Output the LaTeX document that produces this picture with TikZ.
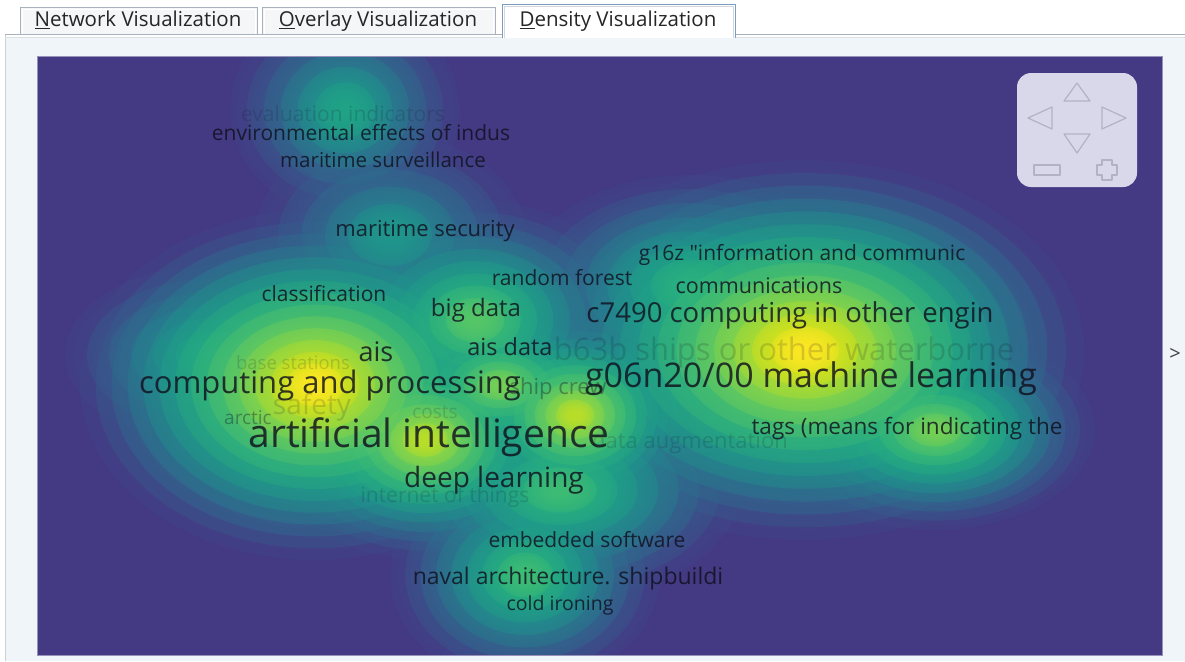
\documentclass[tikz,border=0pt]{standalone}
\usepackage{fontspec}
\setmainfont{Open Sans}
\newfontfamily\osplain{Open Sans}
\usetikzlibrary{fadings}
\definecolor{bgmap}{HTML}{443983}
\definecolor{vA}{HTML}{3F4889}
\definecolor{vB}{HTML}{355F8D}
\definecolor{vC}{HTML}{2D708E}
\definecolor{vD}{HTML}{25838E}
\definecolor{vE}{HTML}{1F968B}
\definecolor{vF}{HTML}{20A386}
\definecolor{vG}{HTML}{29AF7F}
\definecolor{vH}{HTML}{3DBC74}
\definecolor{vI}{HTML}{56C667}
\definecolor{vJ}{HTML}{75D054}
\definecolor{vK}{HTML}{95D840}
\definecolor{vL}{HTML}{BADE28}
\definecolor{vM}{HTML}{DDE318}
\definecolor{vN}{HTML}{FDE725}
\definecolor{panelbg}{HTML}{F0F5FA}
\definecolor{tabline}{HTML}{A8B2BE}
\definecolor{tabsel}{HTML}{7D9CC0}
\definecolor{tabfill}{HTML}{F5F6F8}
\definecolor{navfill}{HTML}{D9D7EA}
\definecolor{navline}{HTML}{B3B1C6}
\definecolor{labdark}{HTML}{10101E}
\pgfdeclareradialshading{blobshade}{\pgfpointorigin}{color(0bp)=(white); color(8bp)=(black!10); color(16bp)=(black!35); color(24bp)=(black!62); color(32bp)=(black!82); color(40bp)=(black!94); color(50bp)=(black)}
\pgfdeclarefading{blobfade}{\pgfuseshading{blobshade}}
\newcommand{\fsz}[1]{\fontsize{#1}{#1}\selectfont}
\tikzset{
  lab/.style={inner sep=0pt, text=labdark, text opacity=0.82, anchor=center},
  faint/.style={inner sep=0pt, text=labdark, text opacity=0.16, anchor=center},
  mid/.style={inner sep=0pt, text=labdark, text opacity=0.36, anchor=center},
  tabtext/.style={inner sep=0pt, text=black!85, font=\fsz{20.5}, anchor=base},
  navshape/.style={draw=navline, line width=1.2pt, line join=round},
}
\begin{document}
\begin{tikzpicture}[x=1pt,y=-1pt]
\useasboundingbox (0,0) rectangle (1185,661);
\fill[white] (0,0) rectangle (1185,661);
% map
\fill[bgmap] (37,56) rectangle (1162,655);
\begin{scope}
\clip (37,56) rectangle (1162,655);
\foreach \lev/\col in {1/vA,2/vB,3/vC,4/vD,5/vE,6/vF,7/vG,8/vH,9/vI,10/vJ,11/vK,12/vL,13/vM,14/vN}{
  \foreach \bx/\by/\rx/\ry/\bl in {
    345/110/115/105/6,
    315/385/235/175/14,
    425/440/160/120/12,
    575/415/135/110/12,
    805/350/280/190/14,
    935/430/160/100/10,
    525/575/135/110/8,
    475/320/160/120/9,
    500/385/140/90/10,
    390/235/135/100/5,
    690/285/170/110/7,
    560/490/180/110/8,
    215/355/150/90/6}{
    \ifnum\lev>\bl\relax\else
      \pgfmathsetmacro\ax{\rx*(1-(\lev-1)/(\bl+0.8))}
      \pgfmathsetmacro\ay{\ry*(1-(\lev-1)/(\bl+0.8))}
      \fill[\col, path fading=blobfade] (\bx,\by) ellipse (\ax pt and \ay pt);
    \fi
  }
}
\end{scope}
% panel around map
\fill[panelbg, even odd rule] (5,38) rectangle (1185,661) (37,56) rectangle (1162,655);
\draw[bgmap!55!white, line width=0.6pt] (37,56) rectangle (1162,655);
\draw[tabline!60, line width=1pt] (5,35) -- (5,661);
\draw[tabline, line width=1pt] (5,34.5) -- (1185,34.5);
\draw[tabline!40, line width=1pt] (5,37.5) -- (1185,37.5);
% tabs
\draw[tabline, fill=tabfill, line width=1pt] (20,34) -- (20,8) -- (257,8) -- (257,34);
\draw[white, line width=1pt] (22,34) -- (22,10) -- (255,10) -- (255,34);
\draw[tabline, fill=tabfill, line width=1pt] (262,34) -- (262,8) -- (495,8) -- (495,34);
\draw[white, line width=1pt] (264,34) -- (264,10) -- (493,10) -- (493,34);
\fill[white] (502,5) rectangle (735,38);
\draw[tabsel, line width=1pt] (502,38) -- (502,5) -- (735,5) -- (735,38);
\draw[tabline!50, line width=1pt] (504,38) -- (504,7) -- (733,7) -- (733,38);
\node[tabtext] (tab1) at (138,27) {\underline{N}etwork Visualization};
\node[tabtext] (tab2) at (378,27) {\underline{O}verlay Visualization};
\node[tabtext] (tab3) at (618,27) {\underline{D}ensity Visualization};
% faint labels
\node[faint, font=\fsz{21}] (n1) at (343,114) {evaluation indicators};
\node[faint, font=\fsz{31}] (n2) at (784,352) {b63b ships or other waterborne};
\node[faint, font=\fsz{18.5}] (n3) at (293,363) {base stations};
\node[faint, font=\fsz{28}] (n4) at (312,407) {safety};
\node[mid, font=\fsz{19}] (n5) at (248,418) {arctic};
\node[faint, font=\fsz{19}] (n6) at (435,412) {costs};
\node[faint, font=\fsz{22}] (n7) at (690,443) {data augmentation};
\node[faint, font=\fsz{21}] (n8) at (445,497) {internet of things};
\node[mid, font=\fsz{22}] (n9) at (558,389) {ship crew};
% dark labels
\node[lab, font=\fsz{21}] (d1) at (361,133) {environmental effects of indus};
\node[lab, font=\fsz{20.5}] (d2) at (383,160) {maritime surveillance};
\node[lab, font=\fsz{22}] (d3) at (425,231) {maritime security};
\node[lab, font=\fsz{21}] (d4) at (802,255) {g16z {\osplain"}information and communic};
\node[lab, font=\fsz{21}] (d5) at (562,278) {random forest};
\node[lab, font=\fsz{21.5}] (d6) at (759,286) {communications};
\node[lab, font=\fsz{21}] (d7) at (324,294) {classification};
\node[lab, font=\fsz{24}] (d8) at (476,310) {big data};
\node[lab, font=\fsz{27.5}] (d9) at (790,315) {c7490 computing in other engin};
\node[lab, font=\fsz{27}] (d10) at (376,352) {ais};
\node[lab, font=\fsz{23.5}] (d11) at (510,347) {ais data};
\node[lab, font=\fsz{31}] (d12) at (330,385) {computing and processing};
\node[lab, font=\fsz{34}] (d13) at (811,379) {g06n20/00 machine learning};
\node[lab, font=\fsz{39}] (d14) at (429,437) {artificial intelligence};
\node[lab, font=\fsz{22.5}] (d15) at (907,429) {tags (means for indicating the};
\node[lab, font=\fsz{28}] (d16) at (494,480) {deep learning};
\node[lab, font=\fsz{21}] (d17) at (587,540) {embedded software};
\node[lab, font=\fsz{23}] (d18) at (568,579) {naval architecture. shipbuildi};
\node[lab, font=\fsz{19.5}] (d19) at (560,605) {cold ironing};
% navigation control
\fill[navfill, rounded corners=14pt] (1017,73) rectangle (1137,187);
\draw[navshape] (1077,83) -- (1090,101) -- (1064,101) -- cycle;
\draw[navshape] (1028,118) -- (1052,107) -- (1052,129) -- cycle;
\draw[navshape] (1126,118) -- (1102,107) -- (1102,129) -- cycle;
\draw[navshape] (1064,134) -- (1090,134) -- (1077,153) -- cycle;
\draw[navshape] (1034,165) rectangle (1060,175);
\draw[navshape] (1102,165) -- (1102,160) -- (1112,160) -- (1112,165) -- (1117,165) -- (1117,175) -- (1112,175) -- (1112,180) -- (1102,180) -- (1102,175) -- (1097,175) -- (1097,165) -- cycle;
\node[inner sep=0pt, text=black!75, font=\fsz{20}] (arr) at (1175,354) {>};
\end{tikzpicture}
\end{document}
